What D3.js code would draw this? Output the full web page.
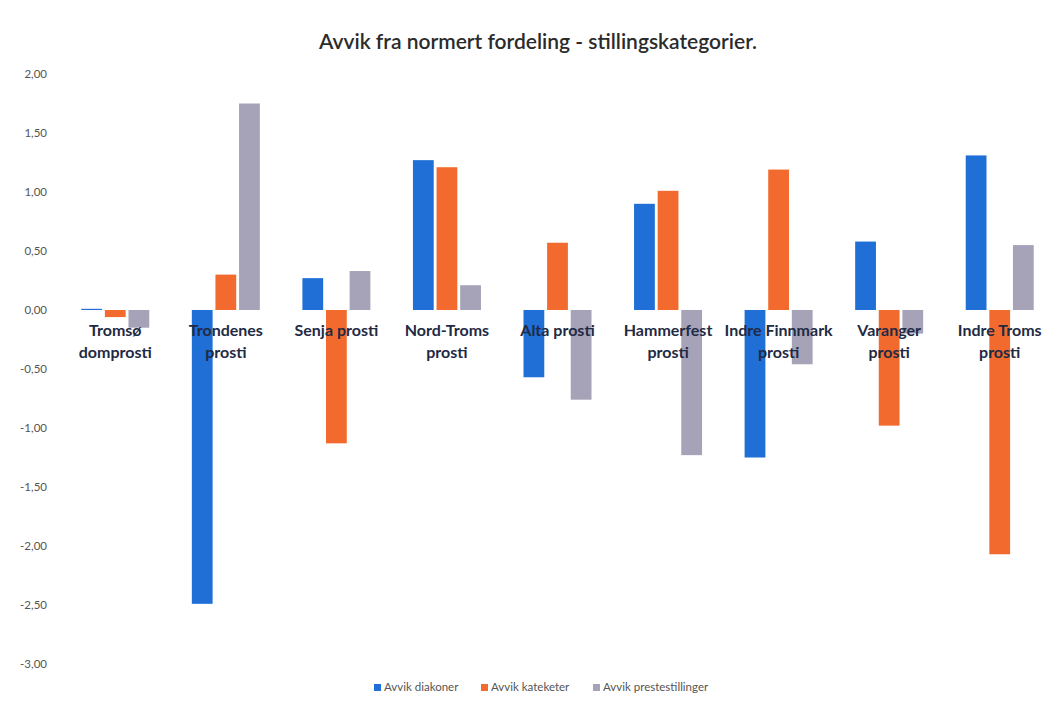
<!DOCTYPE html>
<html>
<head>
<meta charset="utf-8">
<script src="https://cdn.jsdelivr.net/npm/d3@7"></script>
<style>
  body { margin: 0; background: #fff; }
  svg { font-family: Lato, "Open Sans", sans-serif; }
</style>
</head>
<body>
<svg id="chart"></svg>
<script>
// data
const categories = ["Tromsø domprosti", "Trondenes prosti", "Senja prosti", "Nord-Troms prosti",
  "Alta prosti", "Hammerfest prosti", "Indre Finnmark prosti", "Varanger prosti", "Indre Troms prosti"];
const seriesNames = ["Avvik diakoner", "Avvik kateketer", "Avvik prestestillinger"];
const diakoner = [0.01, -2.49, 0.27, 1.27, -0.57, 0.90, -1.25, 0.58, 1.31];
const kateketer = [-0.06, 0.30, -1.13, 1.21, 0.57, 1.01, 1.19, -0.98, -2.07];
const prestestillinger = [-0.15, 1.75, 0.33, 0.21, -0.76, -1.23, -0.46, -0.20, 0.55];
const yTicks = [2, 1.5, 1, 0.5, 0, -0.5, -1, -1.5, -2, -2.5, -3];
const colors = ["#1f6fd6", "#f26a2e", "#a6a2b8"];

const width = 1061, height = 707;
const svg = d3.select('#chart').attr('width', width).attr('height', height);

const x = d3.scaleBand().domain(categories).range([60, 1055]).padding(0);
const x1 = d3.scaleBand().domain(seriesNames).range([0, 68]).paddingInner(0.12);
const y = d3.scaleLinear().domain([-3, 2]).range([664, 74]);

// title
svg.append('text')
    .attr('x', 538).attr('y', 49)
    .attr('text-anchor', 'middle')
    .attr('font-size', 21)
    .attr('font-weight', 600)
    .attr('fill', '#2b2b2b')
    .text('Avvik fra normert fordeling - stillingskategorier.');

// y axis labels
const fmt = v => d3.format('.2f')(v).replace('.', ',').replace('−', '-');
svg.append('g')
    .selectAll('text')
    .data(yTicks)
    .join('text')
    .attr('x', 47)
    .attr('y', d => y(d) + 4)
    .attr('text-anchor', 'end')
    .attr('font-size', 11.5)
    .attr('fill', '#555')
    .text(d => fmt(d));

// bars
const rows = categories.map((c, i) => ({
  cat: c,
  vals: [diakoner[i], kateketer[i], prestestillinger[i]]
}));
const groups = svg.append('g').selectAll('g')
    .data(rows)
    .join('g')
    .attr('transform', d => 'translate(' + (x(d.cat) + (x.bandwidth() - 68) / 2) + ',0)');
groups.selectAll('rect')
    .data(d => d.vals.map((v, j) => ({name: seriesNames[j], v: v, j: j})))
    .join('rect')
    .attr('x', d => x1(d.name))
    .attr('y', d => y(Math.max(0, d.v)))
    .attr('width', x1.bandwidth())
    .attr('height', d => Math.max(1, Math.abs(y(d.v) - y(0))))
    .attr('fill', d => colors[d.j]);

// category labels, drawn over the bars; wrap only when too wide
const labels = svg.append('g').selectAll('text')
    .data(categories)
    .join('text')
    .attr('text-anchor', 'middle')
    .attr('font-size', 16)
    .attr('font-weight', 700)
    .attr('fill', '#1f2a44');
labels.each(function(d) {
  const cx = x(d) + x.bandwidth() / 2;
  const t = d3.select(this);
  const one = t.append('tspan').attr('x', cx).attr('y', y(0) + 26).text(d);
  if (one.node().getComputedTextLength() > 100) {
    const words = d.split(' ');
    one.text(words.slice(0, words.length - 1).join(' '));
    t.append('tspan').attr('x', cx).attr('y', y(0) + 48).text(words[words.length - 1]);
  }
});

// legend
const legendX = [374, 481, 593];
const legend = svg.append('g').selectAll('g')
    .data(seriesNames)
    .join('g')
    .attr('transform', (d, i) => 'translate(' + legendX[i] + ',690)');
legend.append('rect')
    .attr('x', 0).attr('y', -6)
    .attr('width', 7).attr('height', 7)
    .attr('fill', (d, i) => colors[i]);
legend.append('text')
    .attr('x', 10).attr('y', 1)
    .attr('font-size', 11.5)
    .attr('fill', '#555')
    .text(d => d);
</script>
</body>
</html>
